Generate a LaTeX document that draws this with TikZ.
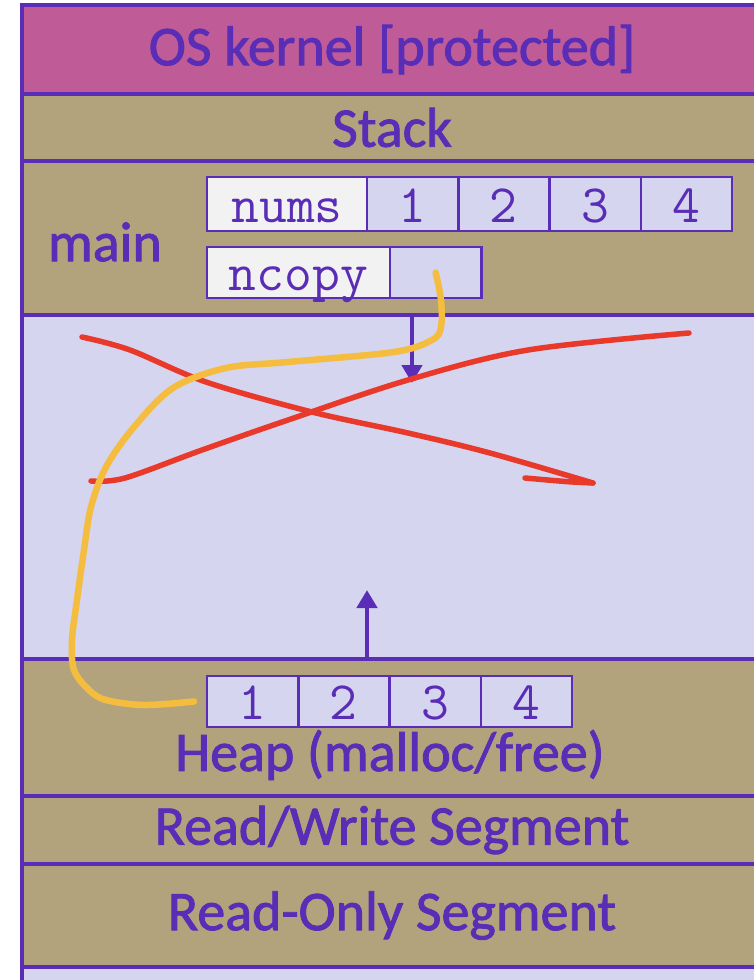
\documentclass[tikz,border=0pt]{standalone}
\usepackage{fontspec}
\setmainfont{Carlito}[FakeBold=1.6]
\usetikzlibrary{arrows.meta}
\definecolor{ink}{HTML}{5A2DB6}
\definecolor{kern}{HTML}{BF5C97}
\definecolor{tan}{HTML}{B3A37D}
\definecolor{lav}{HTML}{D6D5F0}
\definecolor{boxg}{HTML}{F2F2F2}
\definecolor{pen}{HTML}{F5BD3F}
\definecolor{redpen}{HTML}{E8392B}
\begin{document}
\begin{tikzpicture}[x=1pt,y=-1pt,
  band/.style={draw=ink, line width=4.5pt, minimum width=740pt, inner sep=0pt, outer sep=0pt,
    text=ink, font=\fontsize{56}{60}\selectfont, anchor=north west},
  lbl/.style={text=ink, font=\fontsize{56}{60}\selectfont, inner sep=0pt},
  cell/.style={draw=ink, line width=2.5pt, fill=lav, minimum height=51pt,
    minimum width=91.25pt, inner sep=0pt, outer sep=0pt, text=ink, text height=36pt, text depth=0pt,
    font=\ttfamily\fontsize{54}{58}\selectfont, anchor=north west},
  arr/.style={draw=ink, line width=4.5pt, -{Triangle[length=18pt,width=20pt]}},
  redstroke/.style={draw=redpen, line width=5.5pt, line cap=round, line join=round},
  orangestroke/.style={draw=pen, line width=6.5pt, line cap=round, line join=round}]
\useasboundingbox (0,0) rectangle (753,980);
\fill[white] (0,0) rectangle (753,980);
% bands
\node[band, fill=kern, minimum height=89pt] (kernel) at (22,5) {OS kernel [protected]};
\node[band, fill=tan, minimum height=67pt] (stack) at (22,94) {Stack};
\node[band, fill=tan, minimum height=154pt] (mainf) at (22,161) {};
\node[band, fill=lav, minimum height=344pt] (free) at (22,315) {};
\node[band, fill=tan, minimum height=137pt] (heap) at (22,659) {};
\node[band, fill=tan, minimum height=68pt] (rw) at (22,796) {Read/Write Segment};
\node[band, fill=tan, minimum height=103pt] (ro) at (22,864) {Read-Only Segment};
\node[band, fill=lav, minimum height=40pt] (rest) at (22,967) {};
% labels
\node[lbl] (mainlbl) at (105,242) {main};
\node[lbl] (heaplbl) at (390,755) {Heap (malloc/free)};
% nums array
\node[cell, fill=boxg, minimum width=160pt, minimum height=54pt] (numsl) at (207,177) {nums};
\node[cell, minimum height=54pt] (n1) at (numsl.north east) {1};
\node[cell, minimum height=54pt] (n2) at (n1.north east) {2};
\node[cell, minimum height=54pt] (n3) at (n2.north east) {3};
\node[cell, minimum height=54pt] (n4) at (n3.north east) {4};
% ncopy
\node[cell, fill=boxg, minimum width=183pt] (ncl) at (207,247) {ncopy};
\node[cell] (ncv) at (ncl.north east) {};
% heap array
\node[cell] (h1) at (207,676) {1};
\node[cell] (h2) at (h1.north east) {2};
\node[cell] (h3) at (h2.north east) {3};
\node[cell] (h4) at (h3.north east) {4};
% growth arrows
\coordinate (dtip) at (412,383);
\coordinate (utip) at (367,590);
\draw[arr] (dtip |- free.north) -- (dtip);
\draw[arr] (utip |- heap.north) -- (utip);
% red strike-through
\draw[redstroke] plot[smooth, tension=0.55] coordinates {(82,337) (130,350) (206,382) (312,412) (408,433) (490,453) (593,483)};
\draw[redstroke] (593,483) .. controls (570,482) .. (525,478);
\draw[redstroke] plot[smooth, tension=0.55] coordinates {(91,481) (125,478) (202,450) (288,420) (408,380) (528,350) (689,333)};
% orange pointer
\draw[orangestroke] plot[smooth, tension=0.55] coordinates {(ncv.center) (441,300) (441,327) (432,340) (394,352) (288,362) (226,368) (173,388) (134,427) (106,467) (91,507) (84,550) (77,600) (72,640) (74,670) (89,690) (106,700) (144,705) ([xshift=-13pt]h1.west)};
\end{tikzpicture}
\end{document}
